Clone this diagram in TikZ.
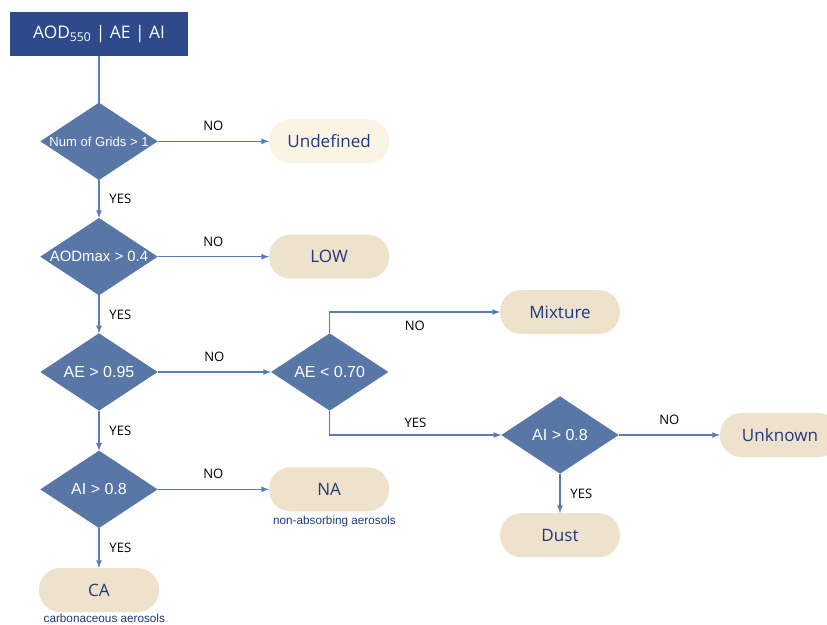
\documentclass[tikz,border=0pt]{standalone}
\usepackage{fontspec}
\setmainfont{Open Sans}
\newfontfamily\arialfont{Liberation Sans}
\usetikzlibrary{shapes.geometric, positioning, arrows}
\definecolor{boxblue}{RGB}{46,74,138}
\definecolor{diablue}{RGB}{88,118,166}
\definecolor{lineblue}{RGB}{90,123,183}
\definecolor{termfill}{RGB}{238,226,205}
\definecolor{termlight}{RGB}{251,243,228}
\definecolor{termtext}{RGB}{31,56,125}

\tikzset{
  startbox/.style={rectangle, fill=boxblue, text=white, minimum width=133.5pt, minimum height=33pt, outer sep=0pt, font=\fontsize{13}{15}\selectfont},
  test/.style={diamond, fill=diablue, minimum width=88pt, minimum height=58pt, inner sep=0pt, outer sep=0pt},
  testtext/.style={text=white, font=\arialfont\fontsize{12}{14}\selectfont},
  result/.style={rectangle, rounded corners=16pt, fill=termfill, text=termtext, minimum width=90pt, minimum height=33pt, outer sep=0pt, font=\fontsize{12.8}{15}\selectfont},
  note/.style={text=termtext, font=\arialfont\fontsize{8.8}{10}\selectfont},
  answer/.style={font=\fontsize{9.8}{11}\selectfont, text=black},
  yes/.style={answer, right, xshift=4pt},
  no/.style={answer, above, yshift=4pt}
}

\begin{document}
\begin{tikzpicture}[x=0.75pt, y=-0.75pt, node distance=28.5pt and 83.6pt, line width=1pt, draw=lineblue, -latex]
        \useasboundingbox (0,0) rectangle (827,624);

        % main column
        \node[startbox] (top) at (99,34) {AOD\textsubscript{550} | AE | AI};
        \node[test, label={[testtext, font=\arialfont\fontsize{9.8}{11}\selectfont]center:Num of Grids > 1}] (grids) [below=35pt of top] {};
        \node[test, label={[testtext, font=\arialfont\fontsize{11.2}{13}\selectfont]center:AODmax > 0.4}] (aodmax) [below=of grids] {};
        \node[test, label={[testtext]center:AE > 0.95}] (aehigh) [below=of aodmax] {};
        \node[test, label={[testtext]center:AI > 0.8}] (aifirst) [below=30pt of aehigh] {};
        \node[result] (ca) [below=30pt of aifirst] {CA};
        \node[note] (canote) [below=-2pt of ca, xshift=4pt] {carbonaceous aerosols};

        % right side
        \node[result, fill=termlight] (undef) [right=of grids] {Undefined};
        \node[result] (low) [right=of aodmax] {LOW};
        \node[test, label={[testtext]center:AE < 0.70}] (aelow) [right=85pt of aehigh] {};
        \node[result] (na) [right=of aifirst] {NA};
        \node[note] (nanote) [below=0pt of na, xshift=4pt] {non-absorbing aerosols};

        \node[result] (mix) at (560,312) {Mixture};
        \node[test, label={[testtext]center:AI > 0.8}] (aisecond) at (560,435) {};
        \node[result] (unknown) [right=76pt of aisecond] {Unknown};
        \node[result] (dust) [below=29.6pt of aisecond] {Dust};

        \draw[-] (top) -- (grids);
        \draw (grids) -- node[yes] {YES} (aodmax);
        \draw (aodmax) -- node[yes] {YES} (aehigh);
        \draw (aehigh) -- node[yes] {YES} (aifirst);
        \draw (aifirst) -- node[yes] {YES} (ca);
        \draw (grids) -- node[no] {NO} (undef);
        \draw (aodmax) -- node[no] {NO} (low);
        \draw (aehigh) -- node[no] {NO} (aelow);
        \draw (aifirst) -- node[no] {NO} (na);
        \draw (aelow.north) |- node[answer, pos=0.75, below, yshift=-3pt] {NO} (mix);
        \draw (aelow.south) |- node[answer, pos=0.75, above, yshift=2pt] {YES} (aisecond);
        \draw (aisecond) -- node[no] {NO} (unknown);
        \draw (aisecond) -- node[yes] {YES} (dust);
    \end{tikzpicture}
\end{document}
